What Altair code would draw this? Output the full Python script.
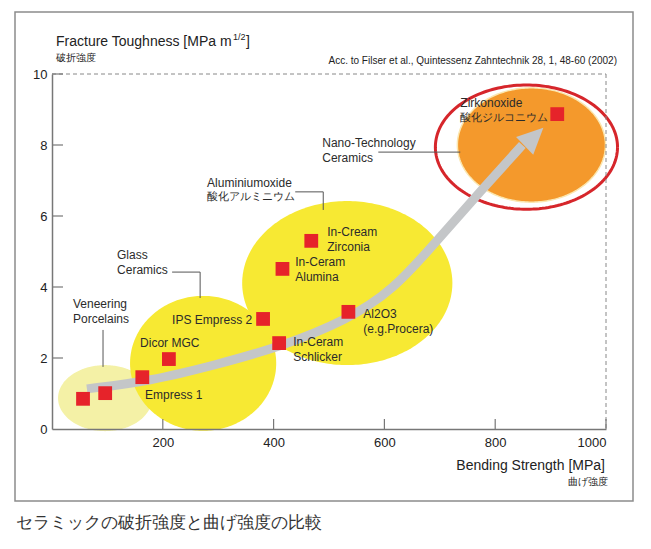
import altair as alt
import numpy as np
import pandas as pd

# ---------------- data ----------------
materials = ["Veneering A", "Veneering B", "Empress 1", "Dicor MGC", "IPS Empress 2",
             "In-Ceram Schlicker", "In-Ceram Alumina", "In-Cream Zirconia",
             "Al2O3 (e.g.Procera)", "Zirkonoxide"]
strength = [56, 96, 163, 211, 381, 410, 416, 468, 535, 912]          # MPa
toughness = [0.85, 1.01, 1.46, 1.97, 3.10, 2.42, 4.51, 5.30, 3.30, 8.87]  # MPa m^1/2

group_names = ["Veneering Porcelains", "Glass Ceramics", "Aluminiumoxide", "Zirkonoxide"]
group_cx = [95.8, 272.8, 533.0, 865.4]
group_cy = [0.87, 1.85, 4.11, 8.00]
group_rx = [84.9, 131.9, 189.7, 133.7]
group_ry = [0.93, 1.90, 2.31, 1.61]

ring_cx, ring_cy, ring_rx, ring_ry = 856.4, 7.94, 164.4, 1.75

trend_x = [63, 177, 294, 412, 533, 616, 688, 762, 849]
trend_y = [1.13, 1.35, 1.80, 2.31, 3.07, 3.92, 5.18, 6.50, 8.00]
arrow_x = [870]
arrow_y = [8.23]

label_text = ["Veneering", "Porcelains", "Glass", "Ceramics", "Aluminiumoxide", "酸化アルミニウム",
              "Nano-Technology", "Ceramics", "Zirkonoxide", "酸化ジルコニウム", "Empress 1",
              "Dicor MGC", "IPS Empress 2", "In-Ceram", "Schlicker", "In-Ceram", "Alumina",
              "In-Cream", "Zirconia", "Al2O3", "(e.g.Procera)"]
label_x = [37.9, 37.9, 117.4, 117.4, 280, 280, 487.8, 487.8, 737, 737, 168,
           159, 216.8, 435.4, 435.4, 439, 439, 496.8, 496.8, 561.9, 561.9]
label_y = [3.52, 3.10, 4.90, 4.48, 6.93, 6.53, 8.06, 7.62, 9.18, 8.76, 0.96,
           2.42, 3.07, 2.45, 2.03, 4.70, 4.28, 5.55, 5.13, 3.24, 2.82]
label_size = [12, 12, 12, 12, 12, 10.5, 12, 12, 12, 10.5, 12,
              12, 12, 12, 12, 12, 12, 12, 12, 12, 12]

leader_id = [0, 0, 1, 1, 1, 2, 2, 2, 3, 3]
leader_x = [92.1, 92.1, 216.8, 267.4, 267.4, 439, 489.6, 489.6, 589, 737]
leader_y = [2.79, 1.75, 4.42, 4.42, 3.69, 6.68, 6.68, 6.17, 7.80, 7.80]

x_ticks = [200, 400, 600, 800, 1000]
y_ticks = [0, 2, 4, 6, 8, 10]

# ---------------- tables ----------------
pts = pd.DataFrame({"material": materials, "strength": strength, "toughness": toughness})

t_half = np.linspace(0, np.pi, 121)
ell_rows = []
for i, n in enumerate(group_names):
    for t in t_half:
        ell_rows.append({"g": n,
                         "x": group_cx[i] + group_rx[i] * np.cos(t),
                         "y1": group_cy[i] - group_ry[i] * np.sin(t),
                         "y2": group_cy[i] + group_ry[i] * np.sin(t)})
ell = pd.DataFrame(ell_rows)

t_full = np.linspace(0, 2 * np.pi, 181)
ring = pd.DataFrame({"x": ring_cx + ring_rx * np.cos(t_full),
                     "y": ring_cy + ring_ry * np.sin(t_full),
                     "o": np.arange(len(t_full))})

trend = pd.DataFrame({"x": trend_x, "y": trend_y, "o": range(len(trend_x))})
arrow = pd.DataFrame({"x": arrow_x, "y": arrow_y})
labels = pd.DataFrame({"t": label_text, "x": label_x, "y": label_y, "s": label_size})
leaders = pd.DataFrame({"id": leader_id, "x": leader_x, "y": leader_y,
                        "o": range(len(leader_x))})

W, H = 554, 355
OX, OY = 52, 74
xs = alt.Scale(domain=[0, 1000], nice=False, zero=False)
ys = alt.Scale(domain=[0, 10], nice=False, zero=False)
FONT = "Liberation Sans"

x_axis = alt.Axis(values=x_ticks, format="d", title=None, ticks=False, grid=False,
                  labelFontSize=13, labelColor="#222", labelPadding=7, domainColor="#777",
                  domainWidth=1.5, labelFont=FONT, zindex=1)
y_axis = alt.Axis(values=y_ticks, format="d", title=None, ticks=False, grid=False,
                  labelFontSize=13, labelColor="#222", labelPadding=5, domainColor="#777",
                  domainWidth=1.5, labelFont=FONT, zindex=1)


def X(f):
    return alt.X(f, type="quantitative", scale=xs, axis=x_axis)


def Y(f):
    return alt.Y(f, type="quantitative", scale=ys, axis=y_axis)


one = pd.DataFrame({"a": [0]})


def ptext(txt, px, py, size, align="left", color="#222", weight="normal"):
    return alt.Chart(one).mark_text(text=txt, align=align, baseline="middle", fontSize=size,
                                    font=FONT, color=color, fontWeight=weight).encode(
        x=alt.value(px - OX), y=alt.value(py - OY))


frame = alt.Chart(one).mark_rect(fill="white", stroke="#8c8c8c", strokeWidth=1.5).encode(
    x=alt.value(15 - OX), x2=alt.value(633 - OX), y=alt.value(12 - OY), y2=alt.value(501 - OY))

ell_colors = {"Veneering Porcelains": "#f4f1a6", "Glass Ceramics": "#f7e933",
              "Aluminiumoxide": "#f7e933", "Zirkonoxide": "#f4992c"}
ell_layers = []
for n in group_names:
    ell_layers.append(
        alt.Chart(ell[ell.g == n]).mark_area(
            color=ell_colors[n], opacity=1,
            stroke="#fbe7b0" if n == "Zirkonoxide" else ell_colors[n],
            strokeWidth=1.5 if n == "Zirkonoxide" else 0).encode(
            x=X("x"), y=Y("y1"), y2="y2")
    )

ring_layer = alt.Chart(ring).mark_line(color="#d6262b", strokeWidth=3).encode(
    x=X("x"), y=Y("y"), order="o:Q")

dash_top = alt.Chart(pd.DataFrame({"y": [10]})).mark_rule(
    color="#888", strokeDash=[4, 3], strokeWidth=1).encode(
    y=Y("y"), x=alt.value(0), x2=alt.value(W))
dash_right = alt.Chart(pd.DataFrame({"x": [1000]})).mark_rule(
    color="#888", strokeDash=[4, 3], strokeWidth=1).encode(
    x=X("x"), y=alt.value(0), y2=alt.value(H))

yt = alt.Chart(pd.DataFrame({"y": y_ticks[1:]})).mark_rule(color="#777", strokeWidth=1.2).encode(
    y=Y("y"), x=alt.value(0), x2=alt.value(11))
xt = alt.Chart(pd.DataFrame({"x": x_ticks})).mark_rule(color="#777", strokeWidth=1.2).encode(
    x=X("x"), y=alt.value(H), y2=alt.value(H - 10))

trend_layer = alt.Chart(trend).mark_line(color="#c4c6c8", strokeWidth=9, interpolate="basis",
                                         strokeCap="butt").encode(
    x=X("x"), y=Y("y"), order="o:Q")
arrow_layer = alt.Chart(arrow).mark_point(shape="M0,-1L0.95,1L-0.95,1Z", filled=True, size=676,
                                          angle=46, color="#c4c6c8", opacity=1).encode(
    x=X("x"), y=Y("y"))

leader_layer = alt.Chart(leaders).mark_line(color="#555", strokeWidth=1).encode(
    x=X("x"), y=Y("y"), detail="id:N", order="o:Q")

sq = alt.Chart(pts).mark_square(size=190, color="#e6232a", opacity=1).encode(
    x=X("strength"), y=Y("toughness"))

lab = alt.Chart(labels).mark_text(align="left", baseline="middle", font=FONT,
                                  color="#2b2b2b").encode(
    x=X("x"), y=Y("y"), text="t:N", size=alt.Size("s:Q", scale=None, legend=None))

titles = [
    ptext("Fracture Toughness [MPa m", 56, 42, 14),
    ptext("1/2", 233, 37, 9),
    ptext("]", 246, 42, 14),
    ptext("破折強度", 56, 58, 10),
    ptext("Acc. to Filser et al., Quintessenz Zahntechnik 28, 1, 48-60 (2002)", 617, 61, 10,
          align="right"),
    ptext("Bending Strength [MPa]", 605, 466, 14, align="right"),
    ptext("曲げ強度", 608, 482, 10, align="right"),
    ptext("セラミックの破折強度と曲げ強度の比較", 16, 523, 17, color="#333"),
]

chart = alt.layer(
    frame, *ell_layers, ring_layer, dash_top, dash_right, yt, xt, trend_layer, arrow_layer,
    leader_layer, sq, lab, *titles
).properties(
    width=W, height=H,
    padding={"left": 44, "top": 66, "right": 37, "bottom": 110},
    autosize=alt.AutoSizeParams(type="none"),
    background="white",
).configure_view(strokeWidth=0)

chart.save("out.html", embed_options={"renderer": "svg", "actions": False})
